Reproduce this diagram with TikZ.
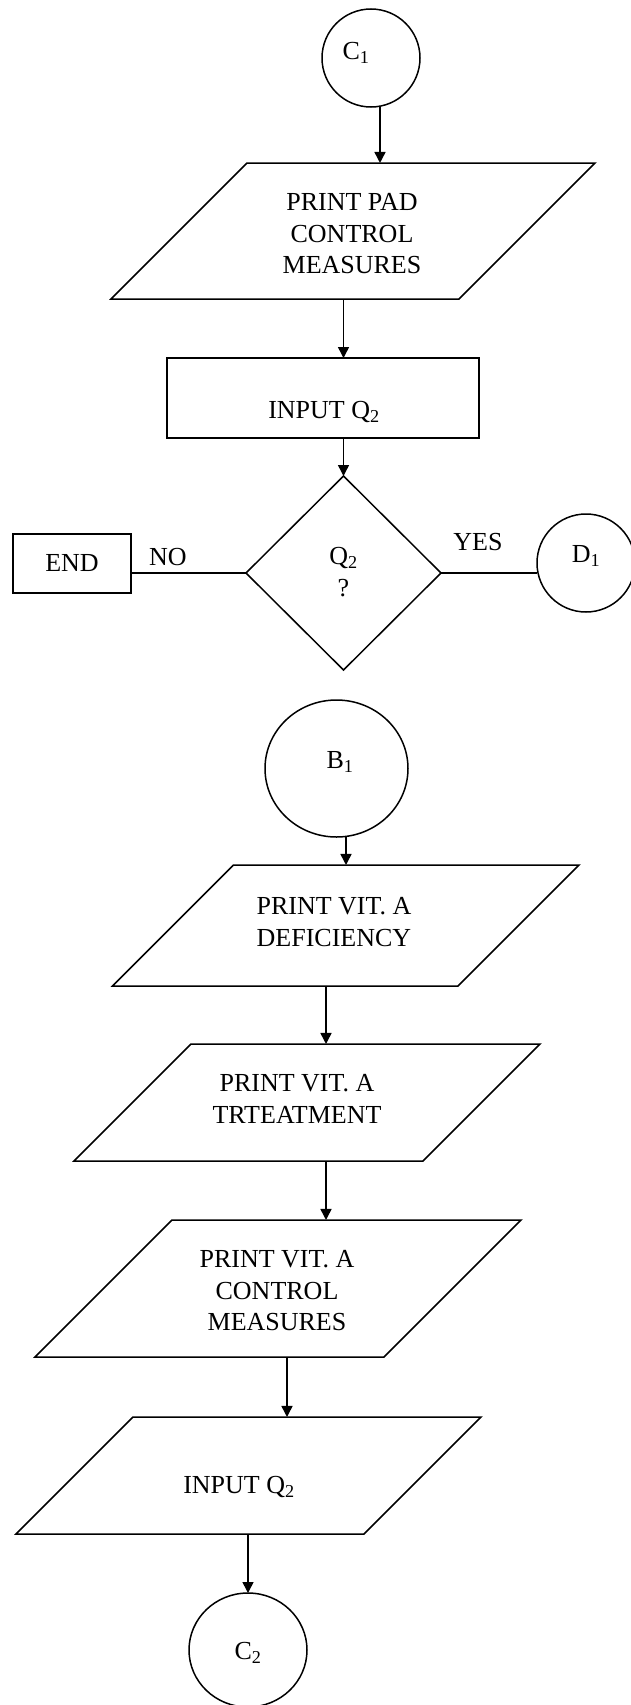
\documentclass[tikz,border=0pt]{standalone}
\usepackage{fontspec}
\setmainfont{Liberation Serif}
\usetikzlibrary{shapes.geometric,arrows.meta}
\begin{document}
\begin{tikzpicture}[x=1pt,y=-1pt,
  shp/.style={draw,line width=1.5pt,inner sep=1pt,outer sep=0pt},
  para/.style={shp,trapezium,trapezium left angle=45,trapezium right angle=135,trapezium stretches body=true,text depth=0pt},
  circ/.style={shp,ellipse},
  boxs/.style={shp,rectangle},
  dec/.style={shp,diamond},
  txt/.style={font=\fontsize{26}{31.5}\selectfont,align=center,inner sep=0pt},
  arr/.style={line width=1.5pt,-{Triangle[length=11pt,width=11pt]}},
  conn/.style={line width=1.5pt}]
\fill[white] (0,0) rectangle (630,1705);
\useasboundingbox (0,0) rectangle (630,1705);

% shapes
\node[circ,minimum width=98pt,minimum height=98pt] (c1) at (371,58) {};
\node[para,minimum width=484pt,minimum height=136pt,text height=134pt] (p1) at (353,231) {};
\node[boxs,minimum width=312pt,minimum height=80pt] (r1) at (323,398) {};
\node[dec,minimum width=195pt,minimum height=194pt] (dq) at (343.5,573) {};
\node[boxs,minimum width=118pt,minimum height=59pt] (endb) at (72,563.5) {};
\node[circ,minimum width=98pt,minimum height=98pt] (d1) at (586,563) {};
\node[circ,minimum width=143pt,minimum height=137pt] (b1) at (336.5,768.5) {};
\node[para,minimum width=466.5pt,minimum height=121pt,text height=119pt] (p2) at (345.75,925.5) {};
\node[para,minimum width=466pt,minimum height=117pt,text height=115pt] (p3) at (307,1102.5) {};
\node[para,minimum width=486pt,minimum height=137pt,text height=135pt] (p4) at (278,1288.5) {};
\node[para,minimum width=465pt,minimum height=117pt,text height=115pt] (p5) at (248.5,1475.5) {};
\node[circ,minimum width=118pt,minimum height=114pt] (c2) at (248,1650) {};

% texts
\node[txt] (tc1) at (356,53) {C\textsubscript{1}};
\node[txt] (tp1) at (352,234) {PRINT PAD\\CONTROL\\MEASURES};
\node[txt] (tr1) at (324,412) {INPUT Q\textsubscript{2}};
\node[txt] (tdq) at (343.5,572) {Q\textsubscript{2}\\?};
\node[txt] (tend) at (72,563.5) {END};
\node[txt] (tno) at (168,557) {NO};
\node[txt] (tyes) at (478,542) {YES};
\node[txt] (td1) at (586,556) {D\textsubscript{1}};
\node[txt] (tb1) at (340,762) {B\textsubscript{1}};
\node[txt] (tp2) at (334,922) {PRINT VIT. A\\DEFICIENCY};
\node[txt] (tp3) at (297,1099) {PRINT VIT. A\\TRTEATMENT};
\node[txt] (tp4) at (277,1291) {PRINT VIT. A\\CONTROL\\MEASURES};
\node[txt] (tp5) at (239,1487) {INPUT Q\textsubscript{2}};
\node[txt] (tc2) at (248,1653) {C\textsubscript{2}};

% connectors
\coordinate (x1) at ([xshift=9pt]c1.south);
\draw[arr] (x1) -- (x1 |- p1.north);
\draw[arr] (p1.south -| dq.north) -- (r1.north -| dq.north);
\draw[arr] (r1.south -| dq.north) -- (dq.north);
\draw[conn] (dq.west) -- (dq.west -| endb.east);
\draw[conn] (dq.east) -- (dq.east -| d1.west);
\coordinate (x4) at ([xshift=9.5pt]b1.south);
\draw[arr] (x4) -- (x4 |- p2.north);
\coordinate (x2) at ([xshift=-19.75pt]p2.south);
\draw[arr] (x2) -- (x2 |- p3.north);
\draw[arr] (p3.south -| x2) -- (p4.north -| x2);
\coordinate (x3) at ([xshift=9pt]p4.south);
\draw[arr] (x3) -- (x3 |- p5.north);
\draw[arr] (p5.south -| c2.north) -- (c2.north);
\end{tikzpicture}
\end{document}
